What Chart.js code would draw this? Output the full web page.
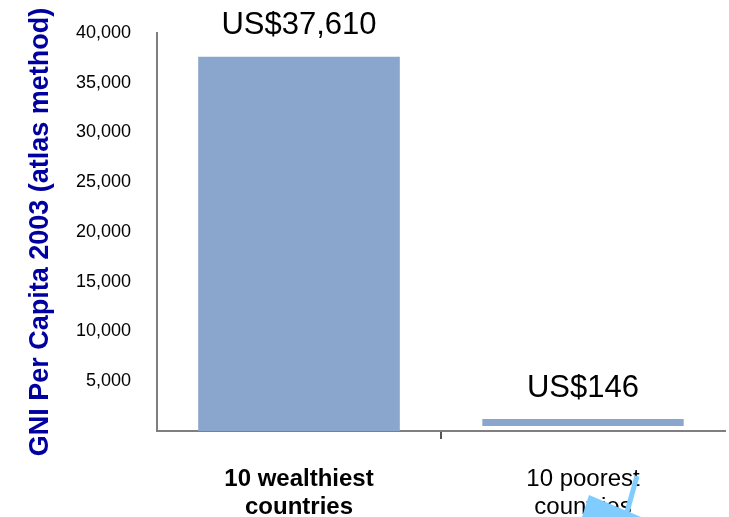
<!DOCTYPE html>
<html>
<head>
<meta charset="utf-8">
<script src="https://cdn.jsdelivr.net/npm/chart.js@4"></script>
<style>
    html, body { margin: 0; padding: 0; background: #fff; }
    #wrap { width: 729px; height: 517px; }
</style>
</head>
<body>
<div id="wrap"><canvas id="gniChart"></canvas></div>
<script>
// GNI per capita, 10 wealthiest vs 10 poorest

const categories = [["10 wealthiest", "countries"], ["10 poorest", "countries"]];
const gniValues = [37610, 146];
const valueLabels = ["US$37,610", "US$146"];
const yTickValues = [5000, 10000, 15000, 20000, 25000, 30000, 35000, 40000];

const FONT = "'Liberation Sans', Arial, sans-serif";
const BAR_COLOR = "#8aa6cc";
const AXIS_COLOR = "#7f7f7f";

// US$ labels above the bars
const valueLabelPlugin = {
    id: "valueLabels",
    afterDatasetsDraw(chart) {
        const ctx = chart.ctx;
        const meta = chart.getDatasetMeta(0);
        ctx.save();
        ctx.font = "31px " + FONT;
        ctx.fillStyle = "#000";
        ctx.textAlign = "center";
        ctx.textBaseline = "middle";
        meta.data.forEach((bar, i) => {
            ctx.fillText(valueLabels[i], bar.x, bar.y - 31);
        });
        ctx.restore();
    }
};

// light blue arrow scrap at the bottom right
const arrowPlugin = {
    id: "arrowScrap",
    afterDraw(chart) {
        const ctx = chart.ctx;
        const area = chart.chartArea;
        const bx = area.right - 88;
        const by = chart.height;
        ctx.save();
        ctx.strokeStyle = "#80ccff";
        ctx.fillStyle = "#80ccff";
        ctx.lineWidth = 5;
        ctx.beginPath();
        ctx.moveTo(bx, by - 41);
        ctx.lineTo(bx - 10, by - 5);
        ctx.stroke();
        ctx.beginPath();
        ctx.moveTo(bx - 48, by - 22);
        ctx.lineTo(bx + 4, by);
        ctx.lineTo(bx - 55, by);
        ctx.closePath();
        ctx.fill();
        ctx.restore();
    }
};

new Chart(document.getElementById("gniChart"), {
    type: "bar",
    data: {
        labels: categories,
        datasets: [{
            data: gniValues,
            backgroundColor: BAR_COLOR,
            barPercentage: 0.71,
            categoryPercentage: 1,
            minBarLength: 12,
            borderSkipped: false,
            borderColor: "rgba(0,0,0,0)",
            borderWidth: (c) => c.dataIndex === 1 ? { top: 0, left: 0, right: 0, bottom: 5 } : 0
        }]
    },
    options: {
        responsive: true,
        maintainAspectRatio: false,
        animation: false,
        layout: { padding: { top: 33, right: 4, left: 0, bottom: 0 } },
        plugins: {
            legend: { display: false },
            tooltip: { enabled: false }
        },
        scales: {
            x: {
                grid: {
                    drawOnChartArea: false,
                    drawTicks: true,
                    tickLength: 8,
                    lineWidth: 2,
                    color: (c) => c.index === 1 ? "#555" : "rgba(0,0,0,0)"
                },
                border: { color: AXIS_COLOR, width: 2 },
                ticks: {
                    color: "#000",
                    padding: 27,
                    maxRotation: 0,
                    font: (c) => ({ family: FONT, size: 24, weight: c.index === 0 ? "bold" : "normal", lineHeight: 1.15 })
                },
                afterFit: (s) => { s.height = 86; }
            },
            y: {
                min: 0,
                max: 40000,
                grid: { display: false },
                border: { color: AXIS_COLOR, width: 2 },
                afterBuildTicks: (s) => { s.ticks = yTickValues.map(v => ({ value: v })); },
                ticks: {
                    color: "#000",
                    padding: 18,
                    font: { family: FONT, size: 18 },
                    callback: (v) => v.toLocaleString("en-US")
                },
                title: {
                    display: true,
                    text: "GNI Per Capita 2003 (atlas method)",
                    color: "#0000a0",
                    font: { family: FONT, size: 27, weight: "bold" },
                    padding: { top: 24, bottom: 0 }
                },
                afterFit: (s) => { s.width = 157; }
            }
        }
    },
    plugins: [valueLabelPlugin, arrowPlugin]
});
</script>
</body>
</html>
